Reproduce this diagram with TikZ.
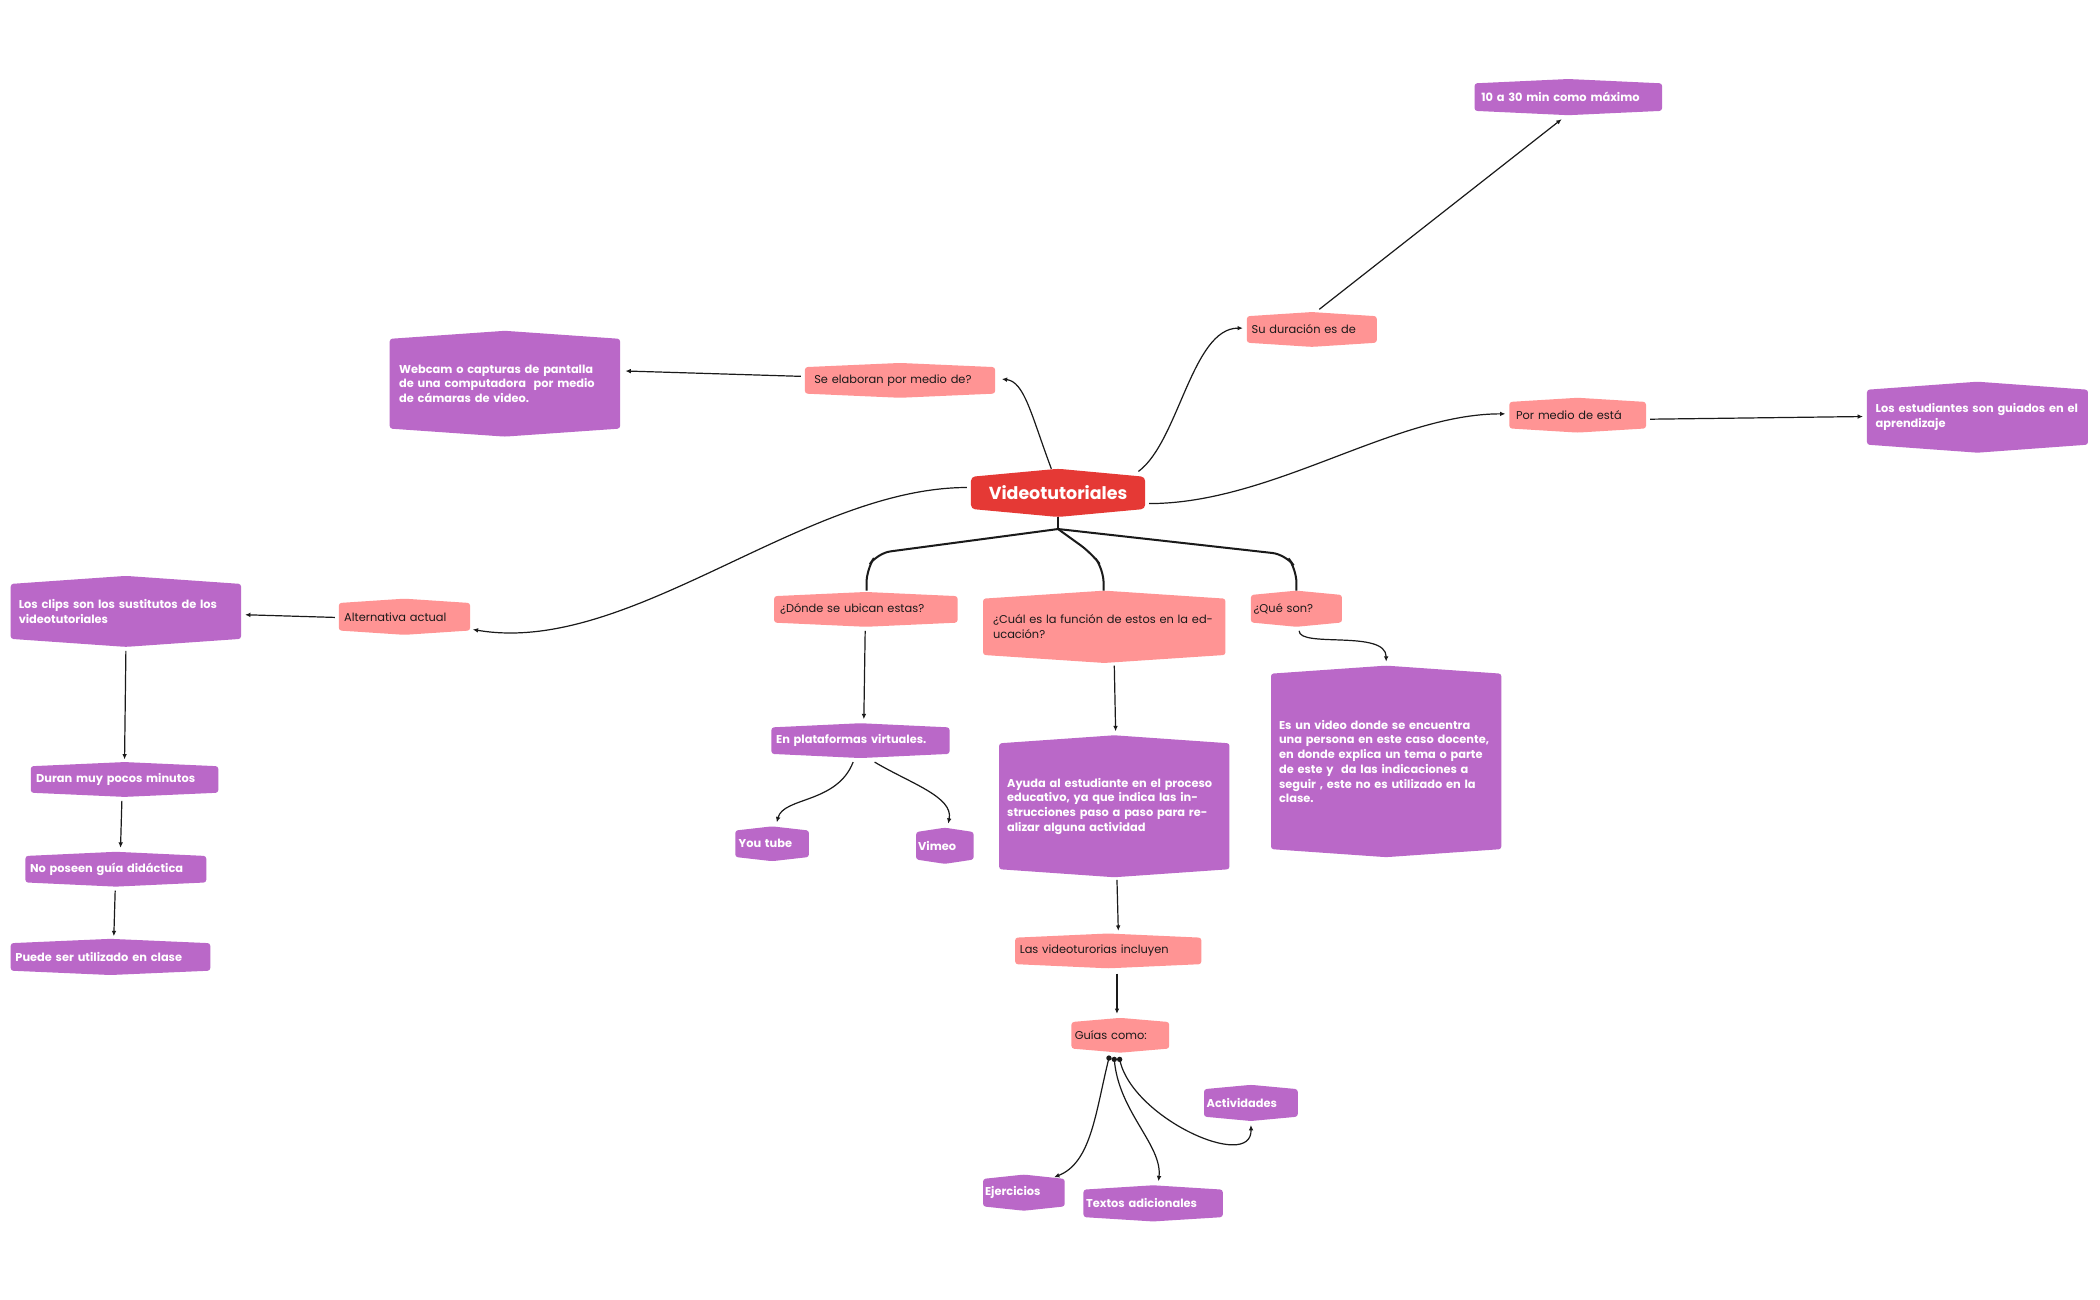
\documentclass[tikz,border=0pt]{standalone}
\usepackage{fontspec}
\setmainfont{Poppins}
\usetikzlibrary{arrows.meta}
\definecolor{cred}{HTML}{E53935}
\definecolor{cpink}{HTML}{FF9494}
\definecolor{cpur}{HTML}{BA68C8}
\definecolor{ctxt}{HTML}{1A1A1A}
\tikzset{
  conn/.style={line width=0.9pt,ctxt,-{Latex[length=4pt,width=3.5pt]}},
  trunk/.style={line width=1.5pt,ctxt,rounded corners=10pt},
  lbl/.style={inner sep=0pt,align=left,font=\fontsize{8.5}{11}\selectfont},
}
% \hx{name}{l}{t}{r}{b}{fill}{textcolor}{width}{text}
\newcommand{\hx}[9]{%
  \pgfmathsetmacro\pk{min(6,0.12*(#5-#3))}%
  \fill[#6,rounded corners=2pt] (#2,-#3-\pk) -- ({(#2+#4)/2},-#3) -- (#4,-#3-\pk) -- (#4,-#5+\pk) -- ({(#2+#4)/2},-#5) -- (#2,-#5+\pk) -- cycle;
  \node[lbl,text=#7,text width=#8] (#1) at ({(#2+#4)/2},{-(#3+#5)/2}) {#9};
  \coordinate (#1-l) at (#2,{-(#3+#5)/2});
}
\begin{document}
\begin{tikzpicture}[x=1pt,y=1pt]
\useasboundingbox (0,0) rectangle (1568,-970);
\fill[white] (0,0) rectangle (1568,-970);
% nodes
\pgfmathsetmacro\pk{6}
\fill[cred,rounded corners=3pt] (725,-356) -- (790,-350) -- (855,-356) -- (855,-380) -- (790,-386) -- (725,-380) -- cycle;
\node[text=white,font=\fontsize{13}{15}\selectfont\bfseries] (vt) at (790,-368) {Videotutoriales};
\hx{se}{601}{271}{743}{297}{cpink}{ctxt}{128pt}{\centering Se elaboran por medio de?}
\hx{web}{291}{247}{463}{326}{cpur}{white}{158pt}{\bfseries Webcam o capturas de pantalla de una computadora \ por medio de cámaras de video.}
\hx{su}{931}{233}{1028}{259}{cpink}{ctxt}{90pt}{\centering Su duración es de}
\hx{diez}{1101}{59}{1241}{86}{cpur}{white}{130pt}{\centering\bfseries 10 a 30 min como máximo}
\hx{por}{1127}{297}{1229}{323}{cpink}{ctxt}{92pt}{\centering Por medio de está}
\hx{est}{1394}{285}{1559}{338}{cpur}{white}{152pt}{\bfseries Los estudiantes son guiados en el aprendizaje}
\hx{alt}{253}{447}{351}{474}{cpink}{ctxt}{90pt}{\centering Alternativa actual}
\hx{clips}{8}{430}{180}{483}{cpur}{white}{160pt}{\bfseries Los clips son los sustitutos de los videotutoriales}
\hx{duran}{23}{569}{163}{595}{cpur}{white}{132pt}{\centering\bfseries Duran muy pocos minutos}
\hx{nop}{19}{636}{154}{662}{cpur}{white}{128pt}{\centering\bfseries No poseen guía didáctica}
\hx{pue}{8}{701}{157}{728}{cpur}{white}{142pt}{\centering\bfseries Puede ser utilizado en clase}
\hx{don}{578}{442}{715}{468}{cpink}{ctxt}{128pt}{\centering ¿Dónde se ubican estas?}
\hx{plat}{576}{540}{709}{566}{cpur}{white}{126pt}{\centering\bfseries En plataformas virtuales.}
\hx{yt}{549}{617}{604}{643}{cpur}{white}{50pt}{\centering\bfseries You tube}
\hx{vim}{684}{618}{727}{645}{cpur}{white}{40pt}{\centering\bfseries Vimeo}
\hx{cual}{734}{441}{915}{495}{cpink}{ctxt}{166pt}{¿Cuál es la función de estos en la educación?}
\hx{ayu}{746}{549}{918}{655}{cpur}{white}{160pt}{\bfseries Ayuda al estudiante en el proceso educativo, ya que indica las instrucciones paso a paso para realizar alguna actividad}
\hx{las}{758}{697}{897}{723}{cpink}{ctxt}{132pt}{\centering Las videoturorias incluyen}
\hx{gui}{800}{760}{873}{786}{cpink}{ctxt}{68pt}{\centering Guías como:}
\hx{act}{899}{810}{969}{837}{cpur}{white}{66pt}{\centering\bfseries Actividades}
\hx{eje}{734}{877}{795}{904}{cpur}{white}{58pt}{\centering\bfseries Ejercicios}
\hx{tex}{809}{885}{913}{912}{cpur}{white}{100pt}{\centering\bfseries Textos adicionales}
\hx{que}{934}{441}{1002}{468}{cpink}{ctxt}{64pt}{\centering ¿Qué son?}
\hx{esun}{949}{497}{1121}{640}{cpur}{white}{160pt}{\bfseries Es un video donde se encuentra una persona en este caso docente, \ en donde explica un tema o parte de este y \ da las indicaciones a seguir , este no es utilizado en la clase.}
% trunk
\coordinate (hub) at (790,-395);
\draw[line width=1.5pt,ctxt] (vt.south |- 0,-386) -- (hub);
\draw[trunk] (hub) -- (655,-413) -- (647,-425) -- (647,-441);
\draw[trunk] (hub) -- (815,-413) -- (824,-425) -- (824,-441);
\draw[trunk] (hub) -- (960,-414) -- (968,-425) -- (968,-441);
% connectors
\coordinate (a1) at (785,-350); \coordinate (a2) at (748,-283);
\draw[conn] (a1) .. controls (770,-310) and (765,-285) .. (a2);
\coordinate (b1) at (850,-352); \coordinate (b2) at (928,-245);
\draw[conn] (b1) .. controls (880,-330) and (890,-245) .. (b2);
\coordinate (c1) at (858,-376); \coordinate (c2) at (1124,-309);
\draw[conn] (c1) .. controls (950,-376) and (1040,-309) .. (c2);
\coordinate (d1) at (722,-364); \coordinate (d2) at (353,-470);
\draw[conn] (d1) .. controls (600,-364) and (470,-490) .. (d2);
\draw[conn] (598,-281) -- (467,-277);
\draw[conn] (985,-231) -- (1166,-89);
\draw[conn] (1232,-313) -- (1391,-311);
\draw[conn] (250,-461) -- (183,-459);
\draw[conn] (94,-486) -- (93,-567);
\draw[conn] (91,-598) -- (90,-633);
\draw[conn] (86,-665) -- (85,-699);
\draw[conn] (646,-471) -- (645,-537);
\draw[conn] (637,-569) .. controls (625,-600) and (585,-595) .. (580,-614);
\draw[conn] (653,-569) .. controls (680,-585) and (712,-595) .. (708,-615);
\draw[conn] (832,-497) -- (833,-546);
\draw[conn] (834,-657) -- (835,-695);
\draw[conn] (834,-727) -- (834,-757);
\draw[conn] (828,-790) .. controls (818,-830) and (815,-868) .. (787,-879);
\draw[conn] (832,-791) .. controls (835,-830) and (868,-855) .. (865,-882);
\draw[conn] (836,-791) .. controls (845,-835) and (935,-875) .. (934,-840);
\fill[ctxt] (828,-790) circle (2pt) (832,-791) circle (2pt) (836,-791) circle (2pt);
\draw[conn] (970,-471) .. controls (970,-484) and (1035,-470) .. (1035,-494);
\end{tikzpicture}
\end{document}
